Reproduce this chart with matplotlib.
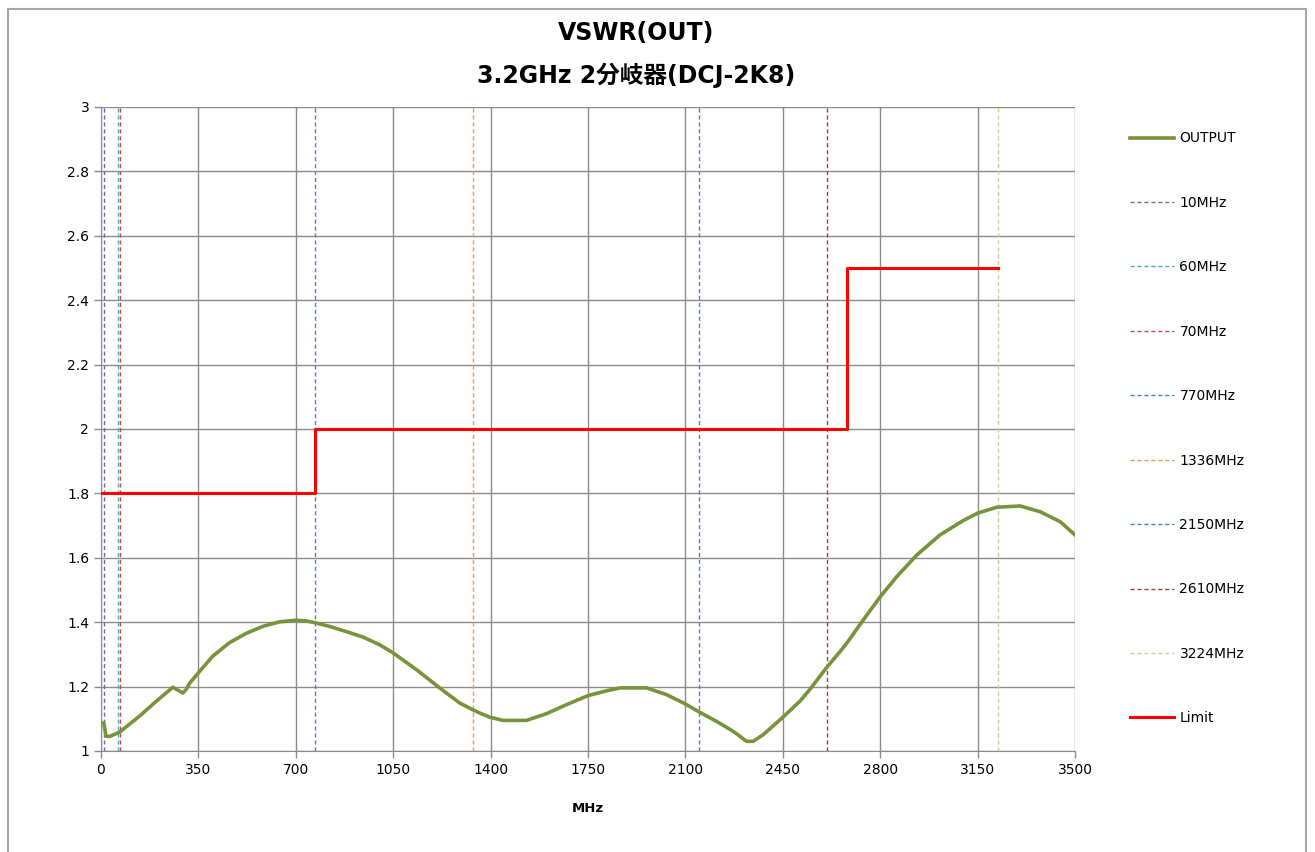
import matplotlib
matplotlib.use("Agg")
import matplotlib.pyplot as plt
from matplotlib.patches import Rectangle

plt.rcParams['font.family'] = ['DejaVu Sans', 'Noto Sans CJK JP']

# ---- data ----
freq = [10, 18, 30, 66, 138, 198, 258, 294, 306, 318, 350, 401, 461, 521, 581,
        641, 699, 737, 771, 821, 881, 941, 1001, 1049, 1133, 1217, 1289, 1334,
        1361, 1397, 1445, 1529, 1601, 1673, 1750, 1817, 1865, 1961, 2032, 2098,
        2152, 2212, 2272, 2320, 2344, 2380, 2448, 2512, 2548, 2610, 2656, 2680,
        2740, 2801, 2860, 2932, 3015, 3099, 3151, 3219, 3303, 3375, 3447, 3500]
vswr = [1.087, 1.046, 1.045, 1.058, 1.108, 1.154, 1.198, 1.180, 1.191, 1.210,
        1.243, 1.294, 1.336, 1.365, 1.387, 1.401, 1.406, 1.404, 1.398, 1.387,
        1.371, 1.354, 1.330, 1.305, 1.253, 1.196, 1.149, 1.129, 1.118, 1.105,
        1.095, 1.095, 1.116, 1.144, 1.172, 1.187, 1.196, 1.196, 1.175, 1.147,
        1.120, 1.092, 1.061, 1.030, 1.030, 1.051, 1.103, 1.155, 1.192, 1.262,
        1.309, 1.335, 1.408, 1.480, 1.542, 1.609, 1.671, 1.716, 1.739, 1.757,
        1.761, 1.743, 1.712, 1.671]

limit_freq = [0, 770, 770, 2680, 2680, 3224]
limit_vals = [1.8, 1.8, 2.0, 2.0, 2.5, 2.5]

marker_freqs = [10, 60, 70, 770, 1336, 2150, 2610, 3224]
marker_labels = ["10MHz", "60MHz", "70MHz", "770MHz", "1336MHz", "2150MHz", "2610MHz", "3224MHz"]
marker_colors = ["#8064A2", "#4BACC6", "#C0504D", "#4F81BD", "#F79646", "#4F81BD", "#A5403C", "#C4D79B"]

xticks = list(range(0, 3501, 350))
yticks = [1, 1.2, 1.4, 1.6, 1.8, 2, 2.2, 2.4, 2.6, 2.8, 3]
ytick_labels = ["1", "1.2", "1.4", "1.6", "1.8", "2", "2.2", "2.4", "2.6", "2.8", "3"]

title1 = "VSWR(OUT)"
title2 = "3.2GHz 2分岐器(DCJ-2K8)"

# ---- figure ----
W, H = 1315, 852
fig = plt.figure(figsize=(W / 100, H / 100), dpi=100)
ax = fig.add_axes([101 / W, 1 - 751 / H, (1075 - 101) / W, (751 - 107) / H])

ax.set_xlim(0, 3500)
ax.set_ylim(1, 3)
ax.set_xticks(xticks)
ax.set_yticks(yticks)
ax.set_yticklabels(ytick_labels)
ax.grid(True, color="#8C8C8C", lw=1.0)
ax.set_axisbelow(True)
for s in ax.spines.values():
    s.set_color("#8C8C8C")
ax.spines['top'].set_visible(False)
ax.spines['right'].set_visible(False)
ax.tick_params(axis='both', colors="#8C8C8C", labelcolor="black", labelsize=10,
               length=5, width=1, direction='out')

handles = []
h_out, = ax.plot(freq, vswr, color="#77933C", lw=2.6, label="OUTPUT", zorder=4,
                 solid_joinstyle='round')
handles.append(h_out)
for f, lab, c in zip(marker_freqs, marker_labels, marker_colors):
    h = ax.axvline(f, color=c, lw=1.0, ls=(0, (3, 2)), label=lab, zorder=3)
    handles.append(h)
h_lim, = ax.plot(limit_freq, limit_vals, color="#FF0000", lw=2.2, label="Limit", zorder=5)
handles.append(h_lim)

ax.set_xlabel("MHz", fontsize=9.5, fontweight='bold', labelpad=18)

fig.text(636 / W, 1 - 33 / H, title1, ha='center', va='center', fontsize=17,
         fontweight='bold', family=['DejaVu Sans', 'Noto Sans CJK JP'])
fig.text(636 / W, 1 - 75 / H, title2, ha='center', va='center', fontsize=17,
         fontweight='bold', family=['DejaVu Sans', 'Noto Sans CJK JP'])

leg = fig.legend(handles=handles, loc='upper left', bbox_to_anchor=(1117 / W, 1 - 119 / H),
                 frameon=False, fontsize=10, labelspacing=3.63, handlelength=3.2,
                 handletextpad=0.4)

# outer chart border
fig.patches.append(Rectangle((8 / W, -0.01), (1306 - 8) / W, (852 - 9) / H + 0.01,
                             transform=fig.transFigure, fill=False,
                             edgecolor="#A6A6A6", lw=1.5))

fig.savefig("out.png", dpi=100)
